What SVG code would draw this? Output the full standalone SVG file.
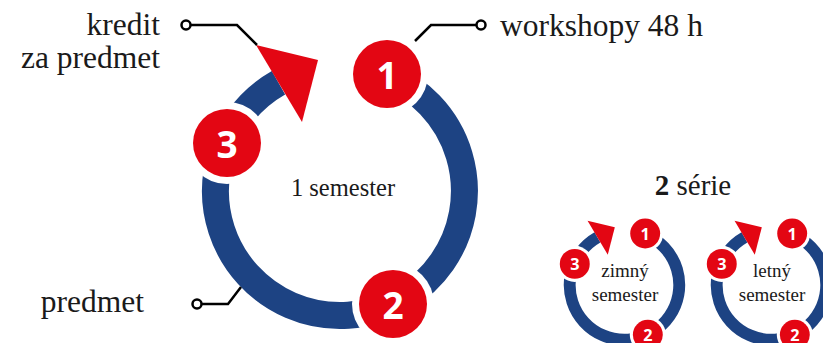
<svg xmlns="http://www.w3.org/2000/svg" width="823" height="343" viewBox="0 0 823 343">
  <style>
    .ring { fill: none; stroke: #1d4383; stroke-width: 27; }
    .arrow { fill: #e30613; }
    .halo { fill: #ffffff; }
    .badge { fill: #e30613; }
    .num { font-family: "Open Sans", "DejaVu Sans", sans-serif; font-weight: 700; font-size: 37px; fill: #ffffff; text-anchor: middle; }
    .label { font-family: "Liberation Serif", "DejaVu Serif", serif; fill: #1a1a1a; }
    .lead { fill: none; stroke: #000000; stroke-width: 2.5; stroke-linejoin: miter; }
    .dot { fill: #ffffff; stroke: #000000; stroke-width: 2.5; }
  </style>

  <!-- main cycle, centred at (340,191) -->
  <g id="cycle-main" transform="translate(340,191)">
    <path class="ring" d="M 46.4 -115.5 A 124.5 124.5 0 1 1 -61.5 -108.3"/>
    <polygon class="arrow" points="-84,-146 -22,-131 -38,-69"/>
    <g id="step-1">
      <circle class="halo" cx="47" cy="-117" r="41"/>
      <circle class="badge" cx="47" cy="-117" r="34"/>
      <text class="num" x="47" y="-102">1</text>
    </g>
    <g id="step-2">
      <circle class="halo" cx="53" cy="113" r="41"/>
      <circle class="badge" cx="53" cy="113" r="34"/>
      <text class="num" x="53" y="128">2</text>
    </g>
    <g id="step-3">
      <circle class="halo" cx="-113" cy="-48" r="41"/>
      <circle class="badge" cx="-113" cy="-48" r="34"/>
      <text class="num" x="-113" y="-33">3</text>
    </g>
  </g>
  <text id="label-semester" class="label" x="343" y="196" font-size="24.5" text-anchor="middle">1 semester</text>

  <!-- leader lines -->
  <g id="connectors">
    <polyline class="lead" points="190,25 237,25 257,45"/>
    <circle class="dot" cx="186" cy="25" r="4.5"/>
    <polyline class="lead" points="415,41 431,25 477,25"/>
    <circle class="dot" cx="481" cy="25" r="4.5"/>
    <polyline class="lead" points="201,304 228,304 241,287"/>
    <circle class="dot" cx="197" cy="304" r="4.5"/>
  </g>

  <g id="label-kredit" class="label" font-size="31.5" text-anchor="end">
    <text x="160" y="35">kredit</text>
    <text x="160" y="68">za predmet</text>
  </g>
  <text id="label-workshopy" class="label" x="500" y="36" font-size="31.5">workshopy 48 h</text>
  <text id="label-predmet" class="label" x="144" y="312" font-size="31.5" text-anchor="end">predmet</text>

  <text id="label-serie" class="label" x="693" y="195" font-size="29" text-anchor="middle"><tspan font-weight="700">2</tspan> série</text>

  <!-- winter semester cycle -->
  <g id="cycle-winter" transform="translate(624.5,285) scale(0.44)">
    <path class="ring" d="M 46.4 -115.5 A 124.5 124.5 0 1 1 -61.5 -108.3"/>
    <polygon class="arrow" points="-84,-146 -22,-131 -38,-69"/>
    <circle class="halo" cx="47" cy="-117" r="41"/>
    <circle class="badge" cx="47" cy="-117" r="34"/>
    <text class="num" x="47" y="-102">1</text>
    <circle class="halo" cx="53" cy="113" r="41"/>
    <circle class="badge" cx="53" cy="113" r="34"/>
    <text class="num" x="53" y="128">2</text>
    <circle class="halo" cx="-113" cy="-48" r="41"/>
    <circle class="badge" cx="-113" cy="-48" r="34"/>
    <text class="num" x="-113" y="-33">3</text>
  </g>
  <g id="label-winter" class="label" font-size="19" text-anchor="middle">
    <text x="625" y="277">zimný</text>
    <text x="625" y="301">semester</text>
  </g>

  <!-- summer semester cycle -->
  <g id="cycle-summer" transform="translate(771.5,285) scale(0.44)">
    <path class="ring" d="M 46.4 -115.5 A 124.5 124.5 0 1 1 -61.5 -108.3"/>
    <polygon class="arrow" points="-84,-146 -22,-131 -38,-69"/>
    <circle class="halo" cx="47" cy="-117" r="41"/>
    <circle class="badge" cx="47" cy="-117" r="34"/>
    <text class="num" x="47" y="-102">1</text>
    <circle class="halo" cx="53" cy="113" r="41"/>
    <circle class="badge" cx="53" cy="113" r="34"/>
    <text class="num" x="53" y="128">2</text>
    <circle class="halo" cx="-113" cy="-48" r="41"/>
    <circle class="badge" cx="-113" cy="-48" r="34"/>
    <text class="num" x="-113" y="-33">3</text>
  </g>
  <g id="label-summer" class="label" font-size="19" text-anchor="middle">
    <text x="772" y="277">letný</text>
    <text x="772" y="301">semester</text>
  </g>
</svg>
